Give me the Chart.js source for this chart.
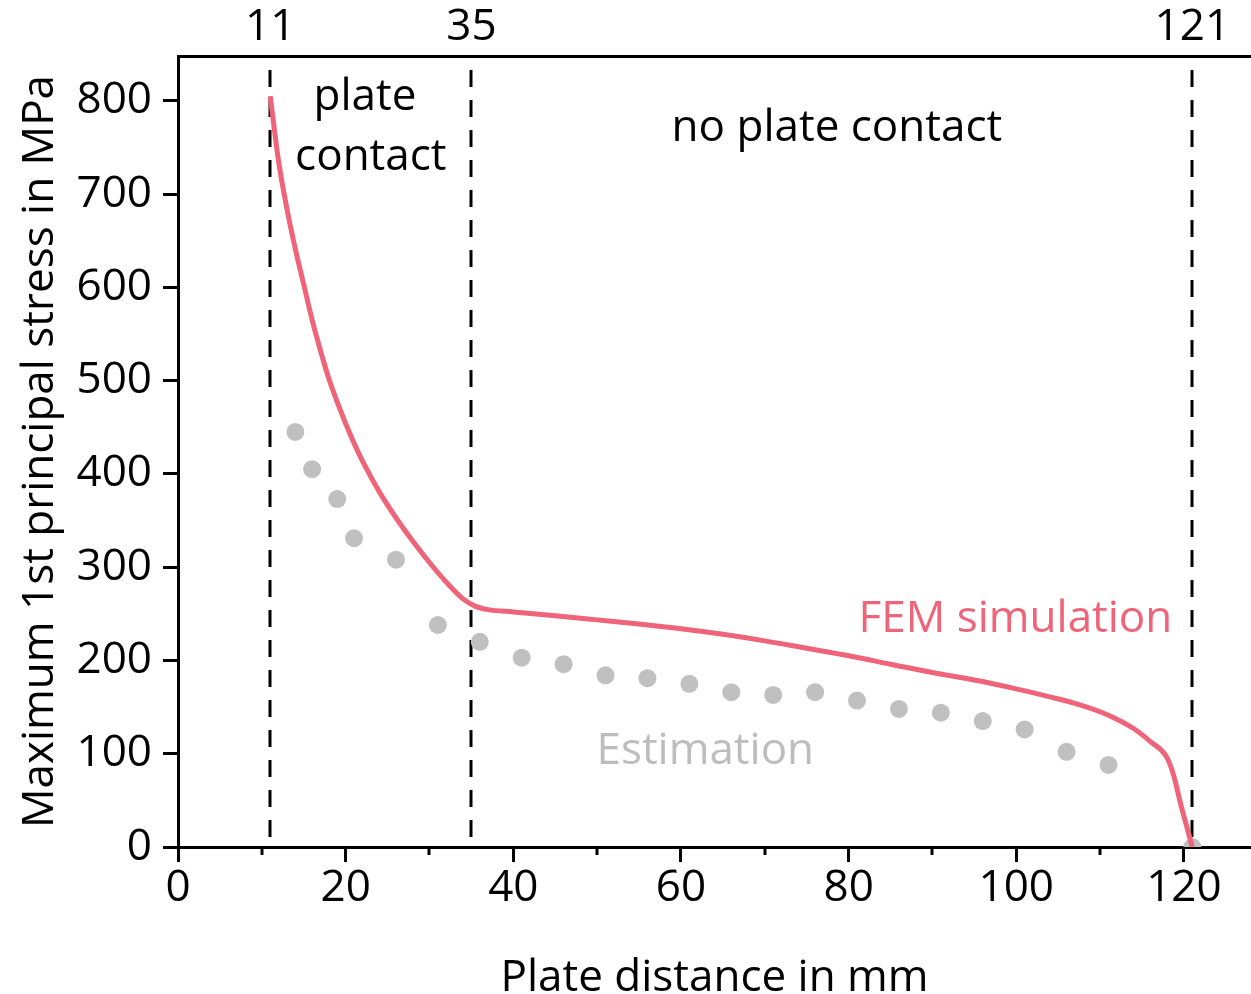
<!DOCTYPE html>
<html>
<head>
<meta charset="utf-8">
<script src="https://cdn.jsdelivr.net/npm/chart.js@4.4.1/dist/chart.umd.min.js"></script>
<style>
  html, body { margin: 0; padding: 0; background: #fff; }
  #wrap { width: 1251px; height: 994px; }
</style>
</head>
<body>
<div id="wrap"><canvas id="stressChart" width="1251" height="994"></canvas></div>
<script>
// FEM simulation curve (plate distance in mm -> stress in MPa)
const femX = [11, 12, 13, 14, 15, 16, 17, 18, 19, 20, 21, 22, 24, 26, 28, 30, 32, 34, 35.5, 37, 40, 45, 50, 55, 60, 65, 70, 75, 80, 85, 90, 95, 100, 104, 107, 110, 112, 114, 116, 117.9, 118.7, 119.7, 121];
const femY = [805, 735, 684, 641, 603, 565, 532, 502, 477, 454, 433, 414, 381, 353, 328, 305, 284, 266, 258, 254.5, 252, 248, 243.5, 239, 234, 228, 221, 213, 205, 196, 187, 179, 169.5, 161, 154, 145, 137, 127, 113, 97, 79, 43, 0];

// Estimation points
const estX = [14, 16, 19, 21, 26, 31, 36, 41, 46, 51, 56, 61, 66, 71, 76, 81, 86, 91, 96, 101, 106, 111, 121];
const estY = [445, 405, 373, 331, 308, 238, 220, 203, 196, 184, 181, 175, 166, 163, 166, 157, 148, 144, 135, 126, 102, 88, 0];

// Axis ticks
const xTicks = [0, 20, 40, 60, 80, 100, 120];
const yTicks = [0, 100, 200, 300, 400, 500, 600, 700, 800];
// Region boundaries shown on the top axis
const boundaries = [11, 35, 121];

// Text labels inside the plot (x, y in data units, y = baseline)
const notes = [
  { text: 'plate', x: 22.3, y: 790, color: '#000' },
  { text: 'contact', x: 23.0, y: 726, color: '#000' },
  { text: 'no plate contact', x: 78.6, y: 757, color: '#000' },
  { text: 'FEM simulation', x: 99.9, y: 231, color: '#ef6479' },
  { text: 'Estimation', x: 62.9, y: 89, color: '#bdbdbd' },
];

const FONT = "'Open Sans', 'Noto Sans', sans-serif";
const lineColor = '#ef6479';
const dotColor = '#c0c0c0';

const toPoints = (xs, ys) => xs.map((v, i) => ({ x: v, y: ys[i] }));
const fixedTicks = (vals) => (s) => { s.ticks = vals.map((v) => ({ value: v })); };

// Dashed boundaries, minor ticks and labels
const overlay = {
  id: 'overlay',
  beforeDatasetsDraw(chart) {
    const { ctx, chartArea, scales } = chart;
    const x = scales.x, y = scales.y;
    ctx.save();
    ctx.strokeStyle = '#000';
    ctx.lineWidth = 3;
    ctx.setLineDash([17, 13]);
    boundaries.forEach((b) => {
      const px = Math.round(x.getPixelForValue(b));
      ctx.beginPath();
      ctx.moveTo(px, chartArea.top + 14);
      ctx.lineTo(px, y.getPixelForValue(0));
      ctx.stroke();
    });
    ctx.restore();
  },
  afterDraw(chart) {
    const { ctx, chartArea, scales } = chart;
    const x = scales.x, y = scales.y;
    ctx.save();
    // minor ticks on the bottom axis
    ctx.strokeStyle = '#000';
    ctx.lineWidth = 3;
    for (let v = 10; v < x.max; v += 20) {
      const px = Math.round(x.getPixelForValue(v));
      ctx.beginPath();
      ctx.moveTo(px, chartArea.bottom);
      ctx.lineTo(px, chartArea.bottom + 8);
      ctx.stroke();
    }
    // text labels
    ctx.font = '44px ' + FONT;
    ctx.textAlign = 'center';
    ctx.textBaseline = 'alphabetic';
    notes.forEach((n) => {
      ctx.fillStyle = n.color;
      ctx.fillText(n.text, x.getPixelForValue(n.x), y.getPixelForValue(n.y));
    });
    ctx.restore();
  },
};

const ctx = document.getElementById('stressChart').getContext('2d');
new Chart(ctx, {
  type: 'scatter',
  data: {
    datasets: [
      {
        label: 'FEM simulation',
        data: toPoints(femX, femY),
        showLine: true,
        borderColor: lineColor,
        borderWidth: 5,
        pointRadius: 0,
        cubicInterpolationMode: 'monotone',
        order: 1,
      },
      {
        label: 'Estimation',
        data: toPoints(estX, estY),
        showLine: false,
        backgroundColor: dotColor,
        borderWidth: 0,
        pointRadius: 9,
        order: 2,
      },
    ],
  },
  options: {
    responsive: false,
    animation: false,
    layout: { padding: 0, autoPadding: false },
    plugins: {
      legend: { display: false },
      tooltip: { enabled: false },
    },
    scales: {
      x: {
        type: 'linear',
        position: 'bottom',
        min: 0,
        max: 128,
        afterBuildTicks: fixedTicks(xTicks),
        afterFit: (s) => { s.height = 147; s.paddingLeft = 0; s.paddingRight = 0; },
        ticks: {
          color: '#000',
          padding: 4,
          maxRotation: 0,
          autoSkip: false,
          font: { family: FONT, size: 44, lineHeight: 1 },
        },
        grid: { drawOnChartArea: false, tickLength: 15, tickWidth: 3, tickColor: '#000' },
        border: { display: true, color: '#000', width: 3 },
        title: {
          display: true,
          text: 'Plate distance in mm',
          color: '#000',
          font: { family: FONT, size: 44, lineHeight: 1 },
          padding: { top: 0, bottom: -6 },
        },
      },
      x2: {
        type: 'linear',
        position: 'top',
        min: 0,
        max: 128,
        afterBuildTicks: fixedTicks(boundaries),
        afterFit: (s) => { s.height = 56; s.paddingLeft = 0; s.paddingRight = 0; },
        ticks: {
          color: '#000',
          padding: 7,
          maxRotation: 0,
          autoSkip: false,
          font: { family: FONT, size: 44, lineHeight: 1 },
        },
        grid: { display: false, drawTicks: false, drawOnChartArea: false },
        border: { display: true, color: '#000', width: 3 },
      },
      y: {
        type: 'linear',
        position: 'left',
        min: 0,
        max: 848,
        afterBuildTicks: fixedTicks(yTicks),
        afterFit: (s) => { s.width = 178; s.paddingTop = 0; s.paddingBottom = 0; },
        ticks: {
          color: '#000',
          padding: 11,
          autoSkip: false,
          font: { family: FONT, size: 44, lineHeight: 1 },
        },
        grid: { drawOnChartArea: false, tickLength: 15, tickWidth: 3, tickColor: '#000' },
        border: { display: true, color: '#000', width: 3 },
        title: {
          display: true,
          text: 'Maximum 1st principal stress in MPa',
          color: '#000',
          font: { family: FONT, size: 44, lineHeight: 1.2 },
          padding: { top: 14, bottom: 0 },
        },
      },
    },
  },
  plugins: [overlay],
});
</script>
</body>
</html>
